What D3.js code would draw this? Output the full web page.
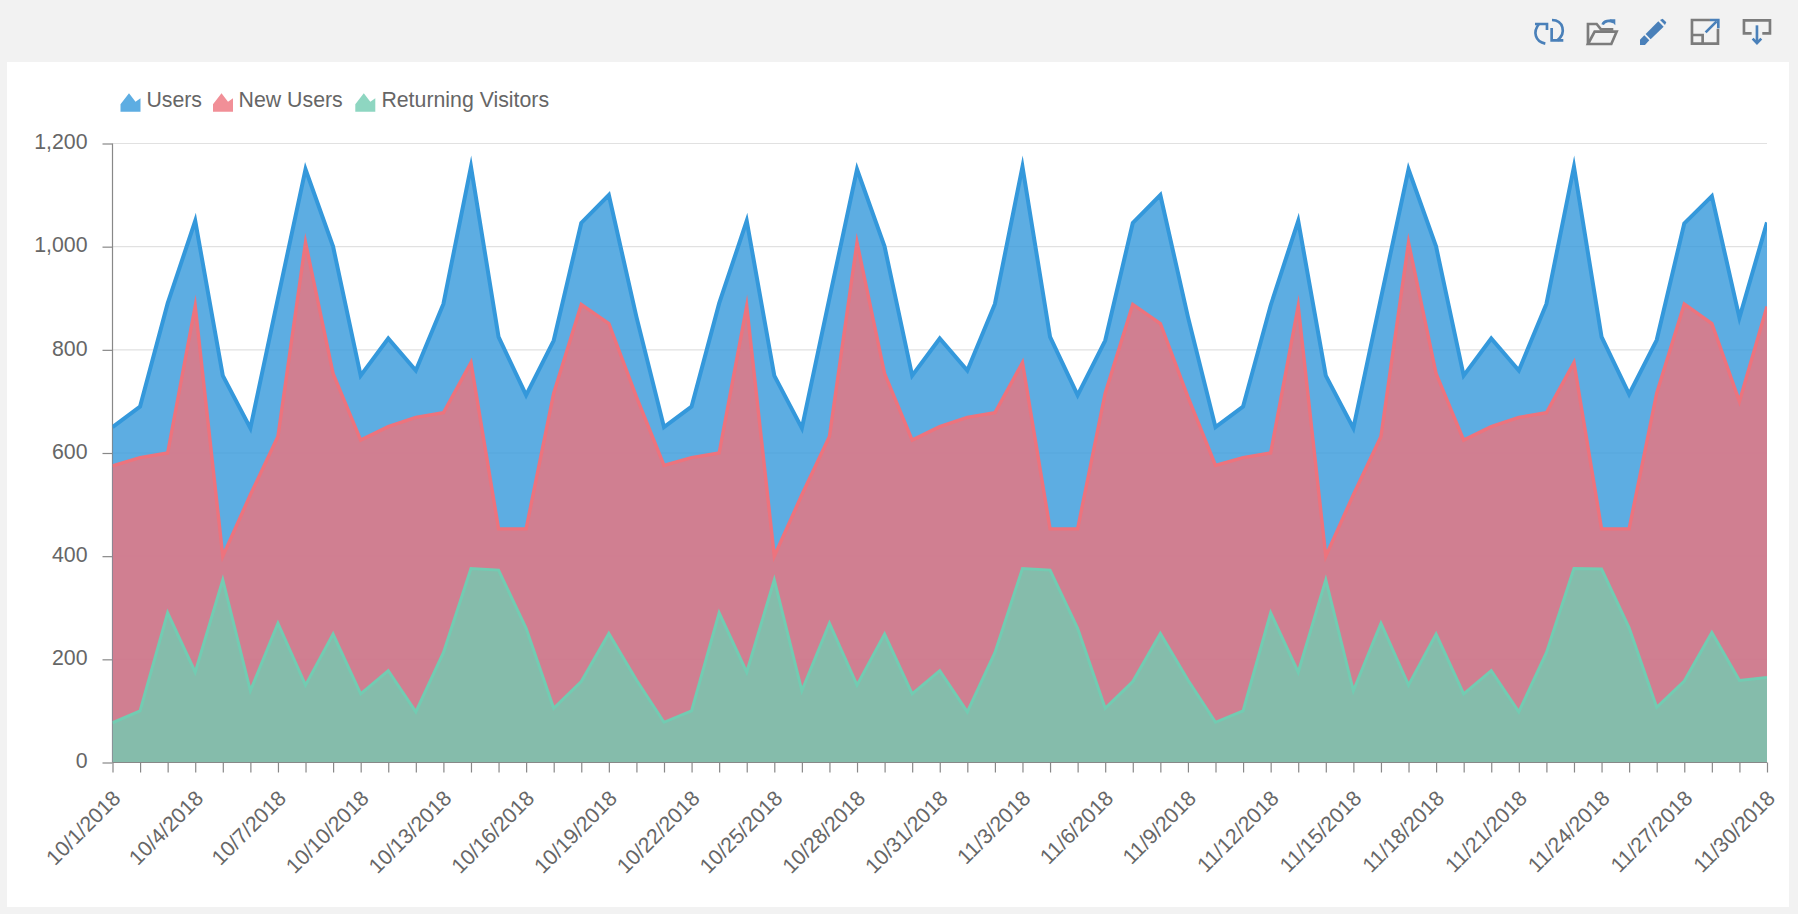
<!DOCTYPE html>
<html><head><meta charset="utf-8">
<script src="https://cdn.jsdelivr.net/npm/d3@7"></script>
<style>html,body{margin:0;padding:0;background:#f2f2f2;overflow:hidden}svg{display:block}text{font-family:"Liberation Sans",Arial,sans-serif}</style>
</head><body><svg id="c" width="1798" height="914"></svg>
<script>
const octDays = d3.range(1, 32).map(d => `10/${d}/2018`);
const novDays = d3.range(1, 31).map(d => `11/${d}/2018`);
const dates = octDays.concat(novDays);
const users = [650,690,890,1050,750,648,900,1150,1000,750,822,760,889,1155,825,712,818,1046,1100,864,
  650,690,890,1050,750,648,900,1150,1000,750,822,760,889,1155,825,712,818,1046,1100,864,
  650,690,886,1050,750,648,900,1150,1000,750,822,760,889,1155,825,714,819,1045,1098,862,1047];
const newUsers = [575,591,600,885,400,519,632,1008,754,625,651,669,678,775,453,453,716,888,851,709,
  576,591,600,885,400,519,632,1008,754,625,651,669,678,775,453,453,716,888,851,709,
  576,591,600,885,400,519,632,1008,754,625,651,669,678,775,453,453,716,889,851,700,884];
const returning = [77,100,290,175,354,139,270,150,249,133,178,98,213,376,373,260,105,157,250,160,
  78,100,290,175,354,139,270,150,249,133,178,98,213,376,373,260,105,157,250,160,
  78,100,290,175,354,139,270,150,249,133,178,98,213,376,375,261,107,158,252,159,165];
const seriesNames = ["Users","New Users","Returning Visitors"];
const seriesValues = [users,newUsers,returning];
const seriesColors = ["#3498db","#ed737d","#72ccb2"];
const strokeWidths = [4,3.4,3];
const yTicks = [0,200,400,600,800,1000,1200];
const labelDates = dates.filter((d,i)=>i%3===0);

const svg = d3.select("#c");
svg.append("rect").attr("x",7).attr("y",62).attr("width",1782).attr("height",845).attr("fill","#fff");
const L=112.5,R=1767,T=143.5,B=762.5;
const x = d3.scalePoint().domain(dates).range([L,R]);
const y = d3.scaleLinear().domain([0,1200]).range([B,T]);

// grid
svg.append("g").selectAll("line").data(yTicks.slice(1)).join("line")
  .attr("x1",L).attr("x2",R).attr("y1",d=>y(d)).attr("y2",d=>y(d))
  .attr("stroke","#e1e1e1").attr("stroke-width",1.2);

// axes
const axisColor="#888", textColor="#666", fontPx="21.3px";
const yAxis = d3.axisLeft(y).tickValues(yTicks).tickSize(10).tickPadding(15).tickFormat(d3.format(","));
const gy = svg.append("g").attr("transform",`translate(${L},0)`).call(yAxis);
const xAxis = d3.axisBottom(x).tickValues(dates).tickSize(10).tickFormat(d=>labelDates.includes(d)?d:"");
const gx = svg.append("g").attr("transform",`translate(0,${B})`).call(xAxis);
for (const g of [gx,gy]){
  g.selectAll(".domain").attr("stroke",axisColor).attr("stroke-width",1.2);
  g.selectAll(".tick line").attr("stroke",axisColor).attr("stroke-width",1.2);
  g.selectAll("text").attr("fill",textColor).style("font-size",fontPx).style("font-family",'"Liberation Sans",Arial,sans-serif');
}
gx.selectAll(".domain").attr("d",`M${L},0H${R}`);
gy.selectAll(".domain").attr("d",`M0,${T}V${B}`);
gy.selectAll(".tick text").attr("dy","0.25em");
gx.selectAll(".tick text").attr("text-anchor","end").attr("y",0).attr("dy",0)
  .attr("transform","translate(9,37) rotate(-45)");

// series
const defs = svg.append("defs");
defs.append("clipPath").attr("id","grid").append("rect").attr("x",L).attr("y",T-40).attr("width",R-L).attr("height",B-T+40);
const plot = svg.append("g").attr("clip-path","url(#grid)");
const area = d3.area().x((d,i)=>x(dates[i])).y0(B).y1(d=>y(d));
const line = d3.line().x((d,i)=>x(dates[i])).y(d=>y(d));
seriesValues.forEach((v,k)=>{
  plot.append("path").attr("d",area(v)).attr("fill",seriesColors[k]).attr("fill-opacity",0.8);
  plot.append("path").attr("d",line(v)).attr("fill","none").attr("stroke",seriesColors[k])
    .attr("stroke-width",strokeWidths[k]).attr("stroke-linejoin","miter").attr("stroke-miterlimit",10);
});
gx.raise(); gx.selectAll(".tick text").raise();

// legend
const legendX=[120.5,213,355.3], textX=[146.4,238.6,381.4];
const icon = d3.line()([[0,18.5],[0,11],[8.5,0],[15,8.5],[20,5],[20,18.5]])+"Z";
const lg = svg.append("g");
seriesNames.forEach((n,k)=>{
  lg.append("path").attr("d",icon).attr("transform",`translate(${legendX[k]},93.3)`)
    .attr("fill",seriesColors[k]).attr("fill-opacity",0.8);
  lg.append("text").attr("x",textX[k]).attr("y",107).text(n).attr("fill",textColor).style("font-size",fontPx);
});

// toolbox (drawn in a 3x local space)
const tb = svg.append("g").attr("transform","translate(1400,0) scale(0.3333)")
  .attr("fill","none").attr("stroke-width",8);
const blue="#4a80b9", gray="#7c7c7c";
const p=(d,c,f)=>tb.append("path").attr("d",d).attr("stroke",f?"none":c).attr("fill",f?c:"none");
p("M405,72H441V90",blue);
p("M417,72C398,95 405,125 436,131",blue);
p("M455,84V121H490",blue);
p("M456,60C490,60 500,100 472,121",blue);
p("M564,132V72H590L603,88H640",gray);
p("M564,132L584,95H650L634,132Z",gray);
p("M608,74C612,62 628,60 640,66",blue);
p("M628,58H646V76Z",blue,true);
p("M720,119L733,106L748,121L735,135H720Z",blue,true);
p("M737,102L775,64L791,80L752,118Z",blue,true);
p("M780,60L788,56L799,67L795,75Z",blue,true);
p("M930,60H876V131H954V86",gray);
p("M876,105H908V131",gray);
p("M917,97L950,64",blue);
p("M930,60H955V85",blue);
p("M1055,100H1032V61H1110V100H1087",gray);
p("M1071,76V128",blue);
p("M1058,116L1071,129L1084,116",blue);
</script></body></html>
